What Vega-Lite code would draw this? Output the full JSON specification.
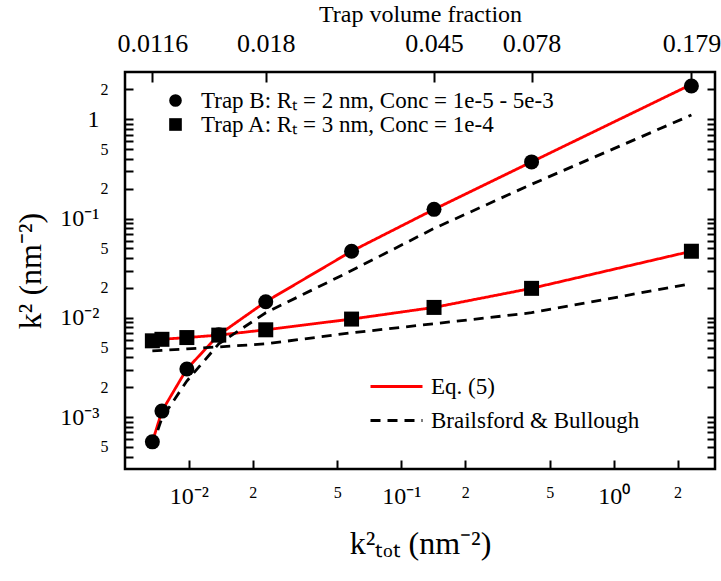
{
  "$schema": "https://vega.github.io/schema/vega-lite/v6.json",
  "width": 590,
  "height": 397,
  "autosize": "none",
  "padding": {"top": 72, "left": 125, "right": 6, "bottom": 112},
  "datasets": {
    "points": [
      {"trap": "Trap B: Rₜ = 2 nm, Conc = 1e-5 - 5e-3", "k2tot": 0.006727, "k2": 0.000563},
      {"trap": "Trap B: Rₜ = 2 nm, Conc = 1e-5 - 5e-3", "k2tot": 0.007462, "k2": 0.00115},
      {"trap": "Trap B: Rₜ = 2 nm, Conc = 1e-5 - 5e-3", "k2tot": 0.009777, "k2": 0.003057},
      {"trap": "Trap B: Rₜ = 2 nm, Conc = 1e-5 - 5e-3", "k2tot": 0.01382, "k2": 0.00675},
      {"trap": "Trap B: Rₜ = 2 nm, Conc = 1e-5 - 5e-3", "k2tot": 0.023, "k2": 0.01455},
      {"trap": "Trap B: Rₜ = 2 nm, Conc = 1e-5 - 5e-3", "k2tot": 0.05832, "k2": 0.04691},
      {"trap": "Trap B: Rₜ = 2 nm, Conc = 1e-5 - 5e-3", "k2tot": 0.1426, "k2": 0.1239},
      {"trap": "Trap B: Rₜ = 2 nm, Conc = 1e-5 - 5e-3", "k2tot": 0.4106, "k2": 0.3726},
      {"trap": "Trap B: Rₜ = 2 nm, Conc = 1e-5 - 5e-3", "k2tot": 2.323, "k2": 2.171},
      {"trap": "Trap A: Rₜ = 3 nm, Conc = 1e-4", "k2tot": 0.006727, "k2": 0.00587},
      {"trap": "Trap A: Rₜ = 3 nm, Conc = 1e-4", "k2tot": 0.007462, "k2": 0.00608},
      {"trap": "Trap A: Rₜ = 3 nm, Conc = 1e-4", "k2tot": 0.009777, "k2": 0.00633},
      {"trap": "Trap A: Rₜ = 3 nm, Conc = 1e-4", "k2tot": 0.01382, "k2": 0.0067},
      {"trap": "Trap A: Rₜ = 3 nm, Conc = 1e-4", "k2tot": 0.023, "k2": 0.00758},
      {"trap": "Trap A: Rₜ = 3 nm, Conc = 1e-4", "k2tot": 0.05832, "k2": 0.00972},
      {"trap": "Trap A: Rₜ = 3 nm, Conc = 1e-4", "k2tot": 0.1426, "k2": 0.01274},
      {"trap": "Trap A: Rₜ = 3 nm, Conc = 1e-4", "k2tot": 0.4106, "k2": 0.01983},
      {"trap": "Trap A: Rₜ = 3 nm, Conc = 1e-4", "k2tot": 2.323, "k2": 0.04691}
    ],
    "lines": [
      {"trap": "B", "model": "Eq. (5)", "k2tot": 0.006727, "k2": 0.000563},
      {"trap": "B", "model": "Eq. (5)", "k2tot": 0.007462, "k2": 0.00115},
      {"trap": "B", "model": "Eq. (5)", "k2tot": 0.009777, "k2": 0.003057},
      {"trap": "B", "model": "Eq. (5)", "k2tot": 0.01382, "k2": 0.00675},
      {"trap": "B", "model": "Eq. (5)", "k2tot": 0.023, "k2": 0.01455},
      {"trap": "B", "model": "Eq. (5)", "k2tot": 0.05832, "k2": 0.04691},
      {"trap": "B", "model": "Eq. (5)", "k2tot": 0.1426, "k2": 0.1239},
      {"trap": "B", "model": "Eq. (5)", "k2tot": 0.4106, "k2": 0.3726},
      {"trap": "B", "model": "Eq. (5)", "k2tot": 2.323, "k2": 2.25},
      {"trap": "A", "model": "Eq. (5)", "k2tot": 0.006727, "k2": 0.00587},
      {"trap": "A", "model": "Eq. (5)", "k2tot": 0.007462, "k2": 0.00608},
      {"trap": "A", "model": "Eq. (5)", "k2tot": 0.009777, "k2": 0.00633},
      {"trap": "A", "model": "Eq. (5)", "k2tot": 0.01382, "k2": 0.0067},
      {"trap": "A", "model": "Eq. (5)", "k2tot": 0.023, "k2": 0.00758},
      {"trap": "A", "model": "Eq. (5)", "k2tot": 0.05832, "k2": 0.00972},
      {"trap": "A", "model": "Eq. (5)", "k2tot": 0.1426, "k2": 0.01274},
      {"trap": "A", "model": "Eq. (5)", "k2tot": 0.4106, "k2": 0.01983},
      {"trap": "A", "model": "Eq. (5)", "k2tot": 2.323, "k2": 0.04691},
      {"trap": "B", "model": "Brailsford & Bullough", "k2tot": 0.006727, "k2": 0.000509},
      {"trap": "B", "model": "Brailsford & Bullough", "k2tot": 0.007462, "k2": 0.000977},
      {"trap": "B", "model": "Brailsford & Bullough", "k2tot": 0.009777, "k2": 0.00231},
      {"trap": "B", "model": "Brailsford & Bullough", "k2tot": 0.01382, "k2": 0.00547},
      {"trap": "B", "model": "Brailsford & Bullough", "k2tot": 0.023, "k2": 0.01126},
      {"trap": "B", "model": "Brailsford & Bullough", "k2tot": 0.05832, "k2": 0.02994},
      {"trap": "B", "model": "Brailsford & Bullough", "k2tot": 0.1426, "k2": 0.0796},
      {"trap": "B", "model": "Brailsford & Bullough", "k2tot": 0.4106, "k2": 0.2217},
      {"trap": "B", "model": "Brailsford & Bullough", "k2tot": 2.323, "k2": 1.105},
      {"trap": "A", "model": "Brailsford & Bullough", "k2tot": 0.006727, "k2": 0.00465},
      {"trap": "A", "model": "Brailsford & Bullough", "k2tot": 0.007462, "k2": 0.0047},
      {"trap": "A", "model": "Brailsford & Bullough", "k2tot": 0.009777, "k2": 0.00487},
      {"trap": "A", "model": "Brailsford & Bullough", "k2tot": 0.01382, "k2": 0.0051},
      {"trap": "A", "model": "Brailsford & Bullough", "k2tot": 0.023, "k2": 0.00547},
      {"trap": "A", "model": "Brailsford & Bullough", "k2tot": 0.05832, "k2": 0.00707},
      {"trap": "A", "model": "Brailsford & Bullough", "k2tot": 0.1426, "k2": 0.00872},
      {"trap": "A", "model": "Brailsford & Bullough", "k2tot": 0.4106, "k2": 0.01126},
      {"trap": "A", "model": "Brailsford & Bullough", "k2tot": 2.323, "k2": 0.02212}
    ]
  },
  "layer": [
    {
      "data": {"name": "lines"},
      "mark": {"type": "line", "strokeWidth": 2.8, "clip": true},
      "encoding": {
        "x": {
          "field": "k2tot", "type": "quantitative",
          "scale": {"type": "log", "domain": [0.005, 3], "nice": false},
          "axis": {
            "orient": "bottom",
            "title": "k²ₜₒₜ (nm⁻²)",
            "titleFontSize": 32, "titleFontWeight": "normal", "titlePadding": 20,
            "values": [0.01, 0.02, 0.05, 0.1, 0.2, 0.5, 1, 2],
            "labelExpr": "substring(format(datum.value,'.0e'),0,1)=='1' ? (substring(format(datum.value,'.0e'),2)=='+0' ? '10⁰' : substring(format(datum.value,'.0e'),2)=='-1' ? '10⁻¹' : substring(format(datum.value,'.0e'),2)=='-2' ? '10⁻²' : '10⁻³') : ((substring(format(datum.value,'.0e'),0,1)=='2' || substring(format(datum.value,'.0e'),0,1)=='5') ? substring(format(datum.value,'.0e'),0,1) : '')",
            "labelFontSize": {"condition": {"test": "substring(format(datum.value,'.0e'),0,1)=='1'", "value": 24}, "value": 16},
            "labelBaseline": "top",
            "tickSize": -9, "labelPadding": 24
          }
        },
        "y": {
          "field": "k2", "type": "quantitative",
          "scale": {"type": "log", "domain": [0.0003, 3], "nice": false},
          "axis": {
            "orient": "left",
            "title": "k² (nm⁻²)",
            "titleFontSize": 32, "titleFontWeight": "normal", "titlePadding": 12,
            "values": [0.0004, 0.0005, 0.0006, 0.0007, 0.0008, 0.0009, 0.001, 0.002, 0.003, 0.004, 0.005, 0.006, 0.007, 0.008, 0.009, 0.01, 0.02, 0.03, 0.04, 0.05, 0.06, 0.07, 0.08, 0.09, 0.1, 0.2, 0.3, 0.4, 0.5, 0.6, 0.7, 0.8, 0.9, 1, 2],
            "labelExpr": "substring(format(datum.value,'.0e'),0,1)=='1' ? (substring(format(datum.value,'.0e'),2)=='+0' ? '1' : substring(format(datum.value,'.0e'),2)=='-1' ? '10⁻¹' : substring(format(datum.value,'.0e'),2)=='-2' ? '10⁻²' : '10⁻³') : ((substring(format(datum.value,'.0e'),0,1)=='2' || substring(format(datum.value,'.0e'),0,1)=='5') ? substring(format(datum.value,'.0e'),0,1) : '')",
            "labelFontSize": {"condition": {"test": "substring(format(datum.value,'.0e'),0,1)=='1'", "value": 24}, "value": 16},
            "labelPadding": {"condition": {"test": "substring(format(datum.value,'.0e'),0,1)=='1'", "value": 34}, "value": 25},
            "labelBaseline": "middle",
            "tickSize": -8
          }
        },
        "color": {
          "field": "model", "type": "nominal",
          "scale": {"domain": ["Eq. (5)", "Brailsford & Bullough"], "range": ["#ff0000", "#000000"]},
          "legend": {
            "title": null, "orient": "none", "legendX": 257, "legendY": 300,
            "symbolType": "M-2,0H2", "symbolSize": 676, "symbolStrokeWidth": 2.8,
            "labelFontSize": 23, "labelOffset": 20, "labelLimit": 0, "rowPadding": 7, "padding": 0
          }
        },
        "strokeDash": {
          "field": "model", "type": "nominal",
          "scale": {"domain": ["Eq. (5)", "Brailsford & Bullough"], "range": [[1, 0], [10, 7]]},
          "legend": {
            "title": null, "orient": "none", "legendX": 257, "legendY": 300,
            "symbolType": "M-2,0H2", "symbolSize": 676, "symbolStrokeWidth": 2.8,
            "labelFontSize": 23, "labelOffset": 20, "labelLimit": 0, "rowPadding": 7, "padding": 0
          }
        },
        "detail": {"field": "trap"}
      }
    },
    {
      "data": {"name": "points"},
      "mark": {"type": "point", "filled": true, "opacity": 1, "size": 225, "color": "black"},
      "encoding": {
        "x": {
          "field": "k2tot", "type": "quantitative",
          "axis": {
            "orient": "top",
            "title": "Trap volume fraction",
            "titleFontSize": 24, "titleFontWeight": "normal", "titlePadding": 4,
            "values": [0.006727, 0.023, 0.1426, 0.4106, 2.323],
            "labelExpr": "datum.value < 0.01 ? '0.0116' : datum.value < 0.05 ? '0.018' : datum.value < 0.2 ? '0.045' : datum.value < 1 ? '0.078' : '0.179'",
            "labelFontSize": 26,
            "tickSize": -10, "labelPadding": 26
          }
        },
        "y": {
          "field": "k2", "type": "quantitative",
          "axis": {
            "orient": "right",
            "title": null,
            "labels": false,
            "values": [0.0004, 0.0005, 0.0006, 0.0007, 0.0008, 0.0009, 0.001, 0.002, 0.003, 0.004, 0.005, 0.006, 0.007, 0.008, 0.009, 0.01, 0.02, 0.03, 0.04, 0.05, 0.06, 0.07, 0.08, 0.09, 0.1, 0.2, 0.3, 0.4, 0.5, 0.6, 0.7, 0.8, 0.9, 1, 2],
            "tickSize": -8
          }
        },
        "shape": {
          "field": "trap", "type": "nominal",
          "scale": {"domain": ["Trap B: Rₜ = 2 nm, Conc = 1e-5 - 5e-3", "Trap A: Rₜ = 3 nm, Conc = 1e-4"], "range": ["circle", "square"]},
          "legend": {
            "title": null, "orient": "none", "legendX": 39, "legendY": 17,
            "symbolSize": 160, "symbolFillColor": "black", "symbolStrokeWidth": 0,
            "labelFontSize": 23, "labelOffset": 14, "labelLimit": 0, "rowPadding": 0, "padding": 0
          }
        }
      }
    }
  ],
  "resolve": {"axis": {"x": "independent", "y": "independent"}},
  "config": {
    "font": "Times New Roman",
    "view": {"stroke": "black", "strokeWidth": 2.5},
    "axis": {
      "domain": false, "grid": false,
      "tickColor": "black", "tickWidth": 2,
      "labelColor": "black", "titleColor": "black",
      "labelFont": "Times New Roman", "titleFont": "Times New Roman",
      "labelFlush": false, "labelOverlap": false
    },
    "legend": {"labelFont": "Times New Roman", "labelColor": "black"},
    "style": {"guide-label": {"font": "Times New Roman"}, "guide-title": {"font": "Times New Roman"}}
  }
}
